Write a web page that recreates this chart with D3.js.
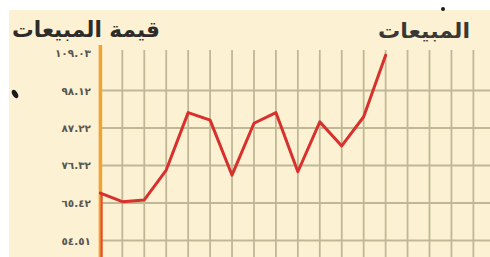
<!DOCTYPE html>
<html><head><meta charset="utf-8">
<script src="https://cdn.jsdelivr.net/npm/d3@7"></script>
<style>html,body{margin:0;padding:0;background:#fff;overflow:hidden}</style>
</head><body>
<svg id="c" width="490" height="257"></svg>
<script>
// ---- data ----
const periods = d3.range(0, 19);              // grid columns (unlabelled periods)
const salesValues = [68.3, 65.8, 66.3, 75.0, 91.7, 89.5, 73.5, 88.6, 91.7, 74.5, 89.0, 82.0, 90.5, 108.4];
const tickValues = [54.51, 65.42, 76.32, 87.22, 98.12, 109.03];
const tickLabels = ["٥٤.٥١", "٦٥.٤٢", "٧٦.٣٢", "٨٧.٢٢", "٩٨.١٢", "١٠٩.٠٣"];
const titleLeft = "قيمة المبيعات";
const titleRight = "المبيعات";

const svg = d3.select("#c");
svg.append("rect").attr("x", 0).attr("y", 0).attr("width", 490).attr("height", 257).attr("fill", "#ffffff");
svg.append("rect").attr("x", 9).attr("y", 10).attr("width", 481).attr("height", 247).attr("fill", "#fcf2d3");

const x = d3.scaleLinear().domain([0, 18]).range([100.4, 100.4 + 21.94 * 18]);
const y = d3.scaleLinear().domain([54.51, 109.03]).range([240.5, 53]);

const g = svg.append("g");
g.selectAll("line.v").data(periods.slice(1)).join("line")
  .attr("x1", d => x(d)).attr("x2", d => x(d))
  .attr("y1", 50).attr("y2", 257)
  .attr("stroke", "#c0b895").attr("stroke-width", 1.8);
g.selectAll("line.h").data(tickValues.slice(0, -1)).join("line")
  .attr("x1", x(0)).attr("x2", 490)
  .attr("y1", d => y(d)).attr("y2", d => y(d))
  .attr("stroke", "#c0b895").attr("stroke-width", 1.8);

g.selectAll("text.t").data(tickValues).join("text")
  .attr("x", 91).attr("y", d => y(d) + 4)
  .attr("text-anchor", "end")
  .attr("font-family", "DejaVu Sans, sans-serif").attr("font-weight", "bold")
  .attr("font-size", 10.5).attr("fill", "#5a5650")
  .text((d, i) => tickLabels[i]);

g.append("line").attr("x1", x(0)).attr("x2", x(0)).attr("y1", 45).attr("y2", 257)
  .attr("stroke", "#f2a231").attr("stroke-width", 3.5);

g.append("line").attr("x1", x(0) + 1.2).attr("x2", x(0) + 1.2).attr("y1", y(salesValues[0])).attr("y2", 257)
  .attr("stroke", "#e0502a").attr("stroke-width", 2.2);
const line = d3.line().x((d, i) => x(i)).y(d => y(d));
g.append("path").datum(salesValues).attr("d", line)
  .attr("fill", "none").attr("stroke", "#d8302c").attr("stroke-width", 3)
  .attr("stroke-linejoin", "round").attr("stroke-linecap", "round");

const t1 = svg.append("text").attr("x", 86).attr("y", 37).attr("text-anchor", "middle")
  .attr("font-family", "DejaVu Sans, sans-serif").attr("font-weight", "bold")
  .attr("font-size", 22).attr("fill", "#2e2b28").text(titleLeft);
t1.attr("textLength", 148).attr("lengthAdjust", "spacingAndGlyphs");
const t2 = svg.append("text").attr("x", 424).attr("y", 38).attr("text-anchor", "middle")
  .attr("font-family", "DejaVu Sans, sans-serif").attr("font-weight", "bold")
  .attr("font-size", 21).attr("fill", "#3a3835").text(titleRight);
t2.attr("textLength", 92).attr("lengthAdjust", "spacingAndGlyphs");

svg.append("ellipse").attr("cx", 15).attr("cy", 94).attr("rx", 2.6).attr("ry", 4.5)
  .attr("transform", "rotate(-30,15,94)").attr("fill", "#1a1a1a");
svg.append("circle").attr("cx", 443).attr("cy", 9).attr("r", 2).attr("fill", "#1a1a1a");
</script>
</body></html>
